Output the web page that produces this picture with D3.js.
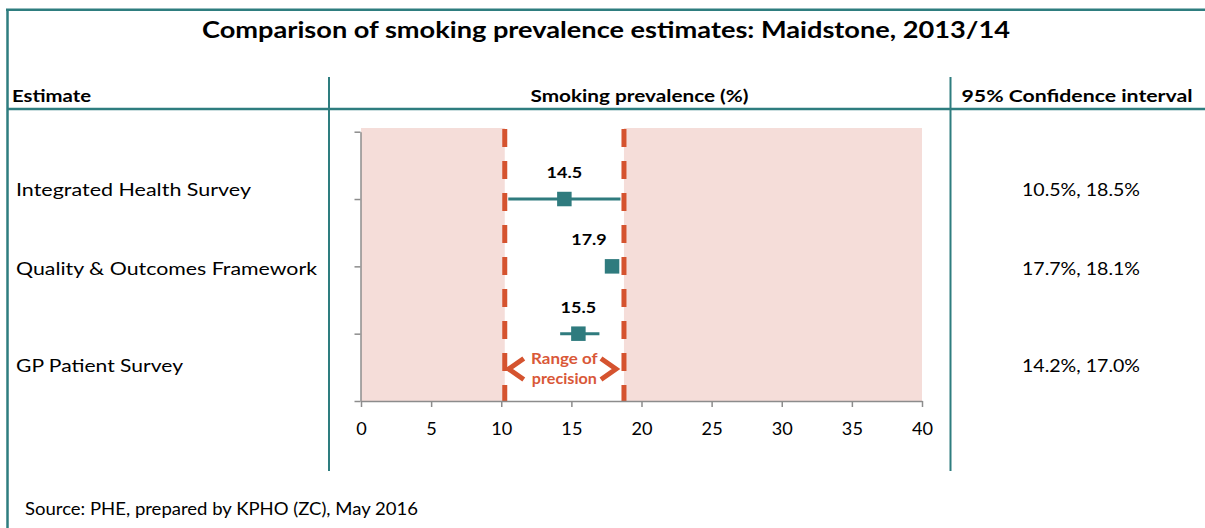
<!DOCTYPE html>
<html>
<head>
<meta charset="utf-8">
<script src="https://cdn.jsdelivr.net/npm/d3@7"></script>
<style>
  html, body { margin: 0; padding: 0; background: #fff; }
  svg { display: block; font-family: Lato, "Open Sans", sans-serif; }
</style>
</head>
<body>
<svg id="chart" width="1205" height="528"></svg>
<script>
// Smoking prevalence estimates for Maidstone, 2013/14
const estimates = ["Integrated Health Survey", "Quality & Outcomes Framework", "GP Patient Survey"];
const prevalence = [14.5, 17.9, 15.5];
const ciLower = [10.5, 17.7, 14.2];
const ciUpper = [18.5, 18.1, 17.0];
const precisionRange = [10.25, 18.75];
const xTicks = [0, 5, 10, 15, 20, 25, 30, 35, 40];
const yTicks = [0, 1, 2, 3, 4];

const teal = "#2f7b7e";
const border = "#2e7d7f";
const pink = "#f5ddd9";
const orange = "#d5532f";
const axisGrey = "#8c8c8c";

const svg = d3.select("#chart");

// Set a text's rendered width (the typeface runs slightly wide)
function fit(sel, width) {
  return sel.attr("textLength", width).attr("lengthAdjust", "spacingAndGlyphs");
}

// Frame of the table
svg.append("rect").attr("width", 1205).attr("height", 528).attr("fill", "#fff");
const frame = svg.append("g").attr("stroke", border).attr("stroke-width", 2.5).attr("fill", "none");
frame.append("line").attr("x1", 6).attr("x2", 1205).attr("y1", 9.7).attr("y2", 9.7);
frame.append("line").attr("x1", 7.5).attr("x2", 7.5).attr("y1", 9).attr("y2", 528);
frame.append("line").attr("x1", 7).attr("x2", 1205).attr("y1", 109).attr("y2", 109);
frame.append("line").attr("x1", 329).attr("x2", 329).attr("y1", 77).attr("y2", 471).attr("stroke-width", 2);
frame.append("line").attr("x1", 950.5).attr("x2", 950.5).attr("y1", 77).attr("y2", 471).attr("stroke-width", 2);

// Title and column headers
fit(svg.append("text").attr("x", 606).attr("y", 37.5).attr("text-anchor", "middle")
  .attr("font-size", 22).attr("font-weight", 700).attr("fill", "#000")
  .text("Comparison of smoking prevalence estimates: Maidstone, 2013/14"), 808);
const headers = svg.append("g").attr("font-size", 17.5).attr("font-weight", 700).attr("fill", "#000");
fit(headers.append("text").attr("x", 12).attr("y", 102).text("Estimate"), 79);
fit(headers.append("text").attr("x", 639.5).attr("y", 102).attr("text-anchor", "middle")
  .text("Smoking prevalence (%)"), 218);
fit(headers.append("text").attr("x", 1077).attr("y", 102).attr("text-anchor", "middle")
  .text("95% Confidence interval"), 231);

// Scales
const x = d3.scaleLinear().domain([0, 40]).range([361, 922]);
const y = d3.scaleLinear().domain([0, 4]).range([401, 131.7]);
const plotTop = 128;
const rowValue = i => 3 - i;

// Shaded area outside the range of precision
const plot = svg.append("g");
plot.append("rect").attr("x", x(0)).attr("y", plotTop)
  .attr("width", x(precisionRange[0]) - x(0)).attr("height", y(0) - plotTop).attr("fill", pink);
plot.append("rect").attr("x", x(precisionRange[1])).attr("y", plotTop)
  .attr("width", x(40) - x(precisionRange[1])).attr("height", y(0) - plotTop).attr("fill", pink);

// Dashed boundaries of the range of precision
plot.selectAll("line.prec").data(precisionRange).join("line")
  .attr("class", "prec")
  .attr("x1", d => x(d)).attr("x2", d => x(d))
  .attr("y1", plotTop + 1).attr("y2", y(0))
  .attr("stroke", orange).attr("stroke-width", 5).attr("stroke-dasharray", "18,14");

// Axes
const yAxis = svg.append("g").attr("transform", `translate(${x(0) - 0.5},0)`)
  .call(d3.axisLeft(y).tickValues(yTicks).tickSize(6).tickSizeOuter(0).tickFormat(""));
const xAxis = svg.append("g").attr("transform", `translate(0,${y(0)})`)
  .call(d3.axisBottom(x).tickValues(xTicks).tickSize(6).tickSizeOuter(0).tickPadding(16.5));
[xAxis, yAxis].forEach(g => {
  g.selectAll("path, line").attr("stroke", axisGrey).attr("stroke-width", 1.5);
});
xAxis.selectAll("text").attr("font-size", 16.5).attr("fill", "#000").attr("font-family", "Lato, sans-serif")
  .each(function () { const w = this.getComputedTextLength(); fit(d3.select(this), w * 1.1); });

// Confidence interval bars
const rows = estimates.map((name, i) => ({ name, i, v: prevalence[i], lo: ciLower[i], hi: ciUpper[i] }));
plot.selectAll("line.ci").data(rows).join("line")
  .attr("class", "ci")
  .attr("x1", d => x(d.lo)).attr("x2", d => x(d.hi))
  .attr("y1", d => y(rowValue(d.i))).attr("y2", d => y(rowValue(d.i)))
  .attr("stroke", teal).attr("stroke-width", 3);

// Point estimates
const sq = 14.5;
plot.selectAll("rect.pt").data(rows).join("rect")
  .attr("class", "pt")
  .attr("x", d => x(d.v) - sq / 2).attr("y", d => y(rowValue(d.i)) - sq / 2)
  .attr("width", sq).attr("height", sq).attr("fill", teal);

// Value labels, kept clear of the upper precision line
fit(plot.selectAll("text.val").data(rows).join("text")
  .attr("class", "val")
  .attr("x", d => Math.min(x(d.v), x(precisionRange[1]) - 35))
  .attr("y", d => y(rowValue(d.i)) - 21)
  .attr("text-anchor", "middle").attr("font-size", 15).attr("font-weight", 700).attr("fill", "#000")
  .text(d => d3.format(".1f")(d.v)), 35.5);

// "Range of precision" annotation
const midX = (x(precisionRange[0]) + x(precisionRange[1])) / 2;
const note = plot.append("g").attr("fill", "#d95838").attr("font-size", 15).attr("font-weight", 700)
  .attr("text-anchor", "middle");
fit(note.append("text").attr("x", midX).attr("y", 363.5).text("Range of"), 66.5);
fit(note.append("text").attr("x", midX).attr("y", 383.5).text("precision"), 65);
const lx = x(precisionRange[0]) + 4, rx = x(precisionRange[1]) - 8;
plot.append("polyline").attr("points", `${lx + 15},358.5 ${lx},369 ${lx + 15},379.5`)
  .attr("fill", "none").attr("stroke", orange).attr("stroke-width", 5);
plot.append("polyline").attr("points", `${rx - 15},358.5 ${rx},369 ${rx - 15},379.5`)
  .attr("fill", "none").attr("stroke", orange).attr("stroke-width", 5);

// Table rows: estimate names and confidence intervals
const rowBaseline = [196, 275, 372];
const nameWidth = [235, 301, 167];
const table = svg.append("g").attr("font-size", 17.5).attr("fill", "#000");
table.selectAll("text.name").data(rows).join("text")
  .attr("class", "name").attr("x", 16).attr("y", d => rowBaseline[d.i]).text(d => d.name)
  .attr("textLength", d => nameWidth[d.i]).attr("lengthAdjust", "spacingAndGlyphs");
fit(table.selectAll("text.ci").data(rows).join("text")
  .attr("class", "ci").attr("x", 1081).attr("y", d => rowBaseline[d.i]).attr("text-anchor", "middle")
  .text(d => `${d3.format(".1f")(d.lo)}%, ${d3.format(".1f")(d.hi)}%`), 118);

// Source note
fit(svg.append("text").attr("x", 25).attr("y", 515).attr("font-size", 17).attr("fill", "#000")
  .text("Source: PHE, prepared by KPHO (ZC), May 2016"), 393);
</script>
</body>
</html>
